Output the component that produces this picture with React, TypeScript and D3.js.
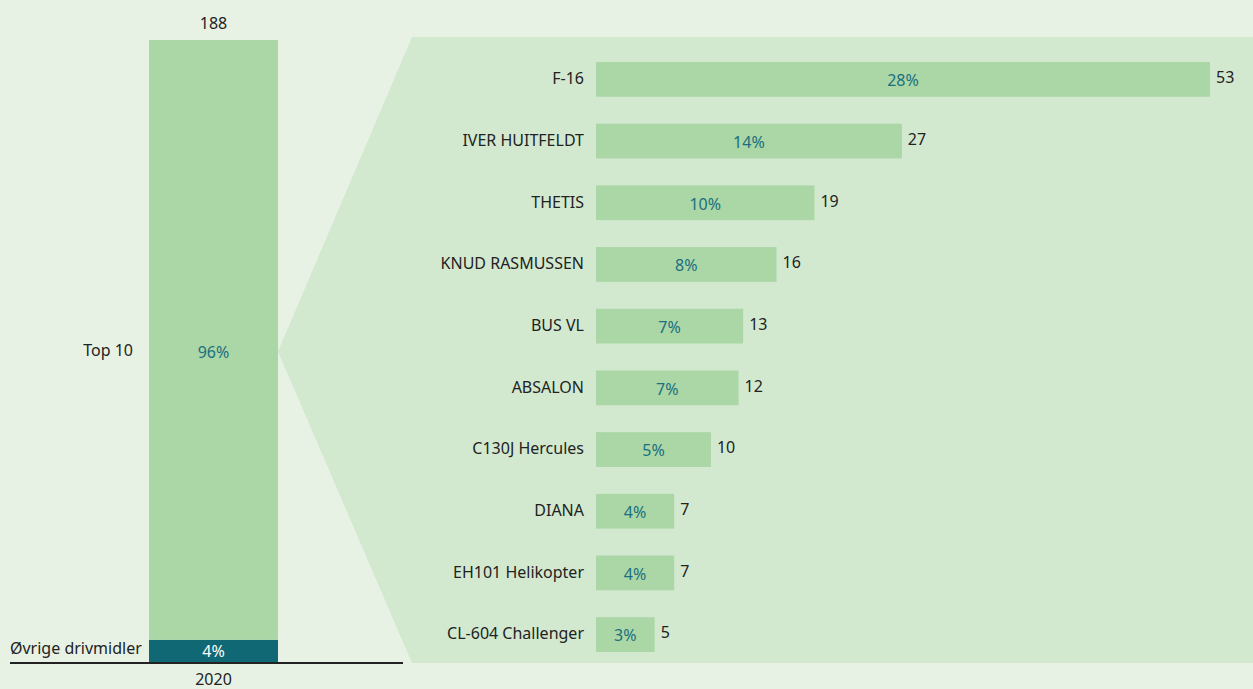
import React from "react";
import * as d3 from "d3";

const W = 1253;
const H = 689;

// Data
const total = 188;
const year = "2020";
const stackCategories = ["Øvrige drivmidler", "Top 10"];
const stackValues = [7, 181];

const categories = [
  "F-16",
  "IVER HUITFELDT",
  "THETIS",
  "KNUD RASMUSSEN",
  "BUS VL",
  "ABSALON",
  "C130J Hercules",
  "DIANA",
  "EH101 Helikopter",
  "CL-604 Challenger",
];
const values = [53.4, 26.6, 19.0, 15.7, 12.8, 12.4, 10.0, 6.8, 6.8, 5.1];

const BG = "#e7f2e5";
const FUNNEL = "#d2e9d0";
const BAR = "#abd6a6";
const TEAL = "#106874";
const TEAL_TEXT = "#1a7080";
const TEXT = "#222";
const FONT = "'Noto Sans', sans-serif";
const FS = 16;

export default function App() {
  // Left stacked bar
  const yLeft = d3.scaleLinear().domain([0, total]).range([663, 40]);
  const leftX0 = 149;
  const leftX1 = 278;
  const leftCx = (leftX0 + leftX1) / 2;
  let acc = 0;
  const stack = stackValues.map((v, i) => {
    const s = { name: stackCategories[i], v, y0: acc, y1: acc + v };
    acc += v;
    return s;
  });
  const pct = d3.format(".0%");

  // Right bars
  const yBand = d3.scaleBand<string>().domain(categories).range([62, 652]).paddingInner(0.437).paddingOuter(0);
  const x = d3.scaleLinear().domain([0, d3.max(values) as number]).range([596, 1210]);

  const midY = yLeft(total / 2);
  const funnelPts: [number, number][] = [
    [leftX1, midY],
    [412, 37],
    [W, 37],
    [W, 663],
    [412, 663],
  ];

  return (
    <svg
      width={W}
      height={H}
      style={{ position: "absolute", left: 0, top: 0, display: "block" }}
      fontFamily={FONT}
    >
      <rect x={0} y={0} width={W} height={H} fill={BG} />
      <polygon points={funnelPts.map((p) => p.join(",")).join(" ")} fill={FUNNEL} />

      {/* stacked bar */}
      {stack.map((s, i) => {
        const cy = i === 0 ? (yLeft(s.y0) + yLeft(s.y1)) / 2 : midY;
        return (
          <g key={s.name}>
            <rect
              x={leftX0}
              y={yLeft(s.y1)}
              width={leftX1 - leftX0}
              height={yLeft(s.y0) - yLeft(s.y1)}
              fill={i === 0 ? TEAL : BAR}
            />
            <text
              x={leftCx}
              y={cy + (i === 0 ? 0 : 1)}
              dy="0.36em"
              textAnchor="middle"
              fontSize={FS}
              fill={i === 0 ? "#fff" : TEAL_TEXT}
            >
              {pct(s.v / total)}
            </text>
            {i === 0 ? (
              <text x={10} y={cy - 3} dy="0.36em" fontSize={FS} fill={TEXT}>
                {s.name}
              </text>
            ) : (
              <text x={133} y={cy - 1} dy="0.36em" textAnchor="end" fontSize={FS} fill={TEXT}>
                {s.name}
              </text>
            )}
          </g>
        );
      })}
      <text x={leftCx} y={23} dy="0.36em" textAnchor="middle" fontSize={FS} fill={TEXT}>
        {total}
      </text>
      <line x1={10} x2={403} y1={663} y2={663} stroke={TEXT} strokeWidth={2} />
      <text x={leftCx} y={679} dy="0.36em" textAnchor="middle" fontSize={FS} fill={TEXT}>
        {year}
      </text>

      {/* right bars */}
      {categories.map((c, i) => {
        const y0 = yBand(c) as number;
        const bw = yBand.bandwidth();
        const cy = y0 + bw / 2;
        return (
          <g key={c}>
            <rect x={x(0)} y={y0} width={x(values[i]) - x(0)} height={bw} fill={BAR} />
            <text x={584} y={cy - 1} dy="0.36em" textAnchor="end" fontSize={FS} fill={TEXT}>
              {c}
            </text>
            <text
              x={(x(0) + x(values[i])) / 2}
              y={cy + 1}
              dy="0.36em"
              textAnchor="middle"
              fontSize={FS}
              fill={TEAL_TEXT}
            >
              {pct(values[i] / total)}
            </text>
            <text x={x(values[i]) + 6} y={cy - 2} dy="0.36em" fontSize={FS} fill={TEXT}>
              {d3.format(".0f")(values[i])}
            </text>
          </g>
        );
      })}
    </svg>
  );
}
